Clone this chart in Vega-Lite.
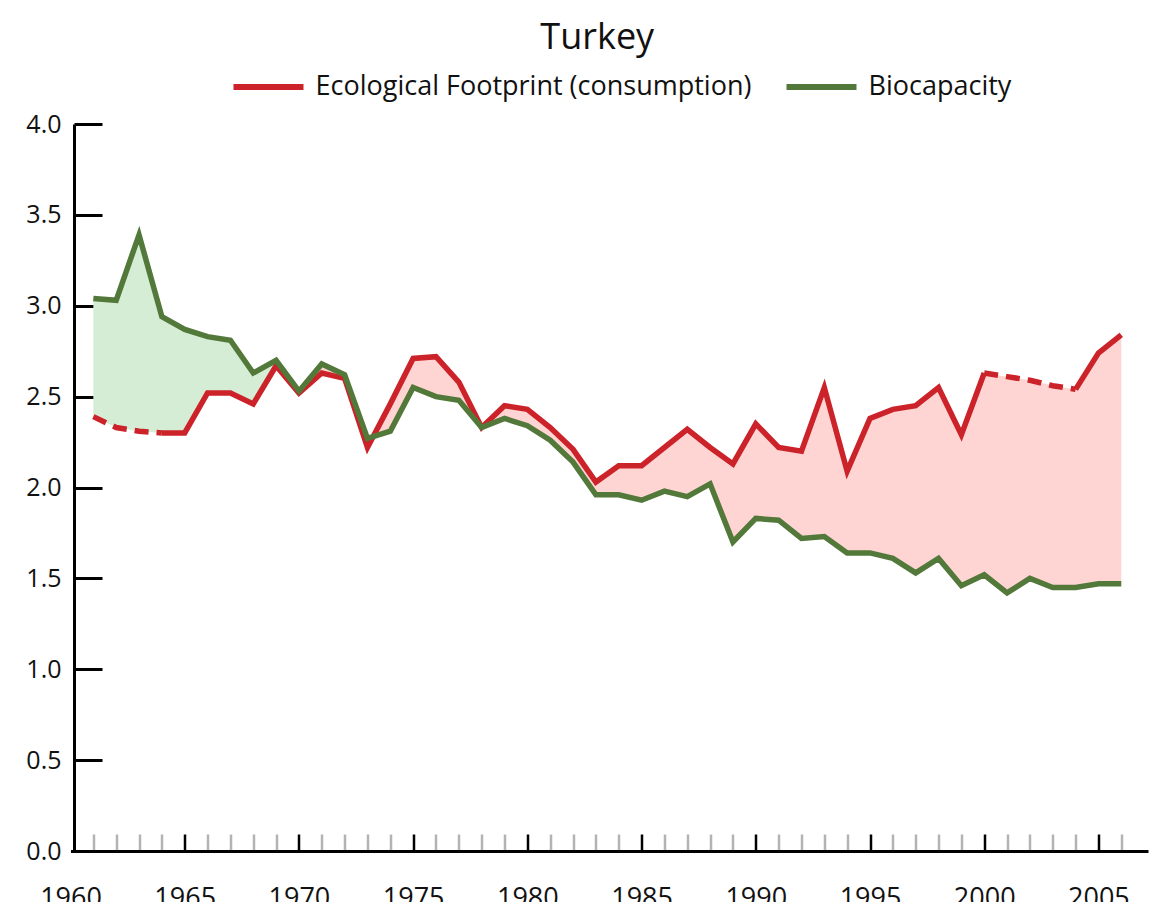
{
  "$schema": "https://vega.github.io/schema/vega-lite/v6.json",
  "autosize": "none",
  "width": 1077.5,
  "height": 727,
  "padding": {"left": 70.5, "top": 124, "right": 18, "bottom": 51},
  "background": "white",
  "title": {"text": "Turkey", "fontSize": 36, "font": "Open Sans", "fontWeight": "normal", "color": "#111", "anchor": "middle", "dx": -12, "offset": -8},
  "config": {
    "view": {"stroke": null},
    "font": "Open Sans",
    "axisY": {"tickCount": 8, "tickSize": -28, "tickWidth": 3, "tickColor": "black", "domainColor": "black", "domainWidth": 3, "labelFontSize": 25, "labelColor": "#111", "labelPadding": 41, "grid": false, "offset": -3.5},
    "legend": {"padding": 0}
  },
  "data": {"values": [
    {"year": 1961, "ef": 2.39, "bio": 3.04},
    {"year": 1962, "ef": 2.33, "bio": 3.03},
    {"year": 1963, "ef": 2.31, "bio": 3.39},
    {"year": 1964, "ef": 2.30, "bio": 2.94},
    {"year": 1965, "ef": 2.30, "bio": 2.87},
    {"year": 1966, "ef": 2.52, "bio": 2.83},
    {"year": 1967, "ef": 2.52, "bio": 2.81},
    {"year": 1968, "ef": 2.46, "bio": 2.63},
    {"year": 1969, "ef": 2.67, "bio": 2.70},
    {"year": 1970, "ef": 2.52, "bio": 2.53},
    {"year": 1971, "ef": 2.63, "bio": 2.68},
    {"year": 1972, "ef": 2.60, "bio": 2.62},
    {"year": 1973, "ef": 2.22, "bio": 2.27},
    {"year": 1974, "ef": 2.46, "bio": 2.31},
    {"year": 1975, "ef": 2.71, "bio": 2.55},
    {"year": 1976, "ef": 2.72, "bio": 2.50},
    {"year": 1977, "ef": 2.58, "bio": 2.48},
    {"year": 1978, "ef": 2.33, "bio": 2.33},
    {"year": 1979, "ef": 2.45, "bio": 2.38},
    {"year": 1980, "ef": 2.43, "bio": 2.34},
    {"year": 1981, "ef": 2.33, "bio": 2.26},
    {"year": 1982, "ef": 2.21, "bio": 2.14},
    {"year": 1983, "ef": 2.03, "bio": 1.96},
    {"year": 1984, "ef": 2.12, "bio": 1.96},
    {"year": 1985, "ef": 2.12, "bio": 1.93},
    {"year": 1986, "ef": 2.22, "bio": 1.98},
    {"year": 1987, "ef": 2.32, "bio": 1.95},
    {"year": 1988, "ef": 2.22, "bio": 2.02},
    {"year": 1989, "ef": 2.13, "bio": 1.70},
    {"year": 1990, "ef": 2.35, "bio": 1.83},
    {"year": 1991, "ef": 2.22, "bio": 1.82},
    {"year": 1992, "ef": 2.20, "bio": 1.72},
    {"year": 1993, "ef": 2.55, "bio": 1.73},
    {"year": 1994, "ef": 2.09, "bio": 1.64},
    {"year": 1995, "ef": 2.38, "bio": 1.64},
    {"year": 1996, "ef": 2.43, "bio": 1.61},
    {"year": 1997, "ef": 2.45, "bio": 1.53},
    {"year": 1998, "ef": 2.55, "bio": 1.61},
    {"year": 1999, "ef": 2.29, "bio": 1.46},
    {"year": 2000, "ef": 2.63, "bio": 1.52},
    {"year": 2001, "ef": 2.61, "bio": 1.42},
    {"year": 2002, "ef": 2.59, "bio": 1.50},
    {"year": 2003, "ef": 2.56, "bio": 1.45},
    {"year": 2004, "ef": 2.54, "bio": 1.45},
    {"year": 2005, "ef": 2.74, "bio": 1.47},
    {"year": 2006, "ef": 2.84, "bio": 1.47}
  ]},
  "encoding": {
    "x": {
      "field": "year", "type": "quantitative",
      "scale": {"domain": [1960, 2007.17], "nice": false, "zero": false},
      "axis": {
        "title": null,
        "values": [1960,1961,1962,1963,1964,1965,1966,1967,1968,1969,1970,1971,1972,1973,1974,1975,1976,1977,1978,1979,1980,1981,1982,1983,1984,1985,1986,1987,1988,1989,1990,1991,1992,1993,1994,1995,1996,1997,1998,1999,2000,2001,2002,2003,2004,2005,2006],
        "format": "d",
        "labelExpr": "datum.value % 5 === 0 ? datum.label : ''",
        "tickSize": -17,
        "tickWidth": 2.5,
        "tickColor": {"condition": {"test": "datum.value % 5 === 0", "value": "black"}, "value": "#b3b3b3"},
        "tickOpacity": {"condition": {"test": "datum.value === 1960", "value": 0}, "value": 1},
        "domainColor": "black",
        "domainWidth": 3,
        "labelFontSize": 27,
        "labelColor": "#111",
        "labelPadding": 51,
        "labelFlush": false,
        "labelOverlap": false,
        "labelBound": false,
        "grid": false
      }
    }
  },
  "layer": [
    {
      "transform": [{"filter": "datum.year <= 1970"}],
      "mark": {"type": "area", "fill": "#d5ecd5", "opacity": 1},
      "encoding": {
        "y": {"field": "bio", "type": "quantitative", "title": null, "scale": {"domain": [0, 4], "nice": false, "zero": true}},
        "y2": {"field": "ef"}
      }
    },
    {
      "transform": [{"filter": "datum.year >= 1970"}],
      "mark": {"type": "area", "fill": "#ffd5d3", "opacity": 1},
      "encoding": {
        "y": {"field": "ef", "type": "quantitative", "title": null},
        "y2": {"field": "bio"}
      }
    },
    {
      "transform": [{"filter": "datum.year >= 1964 && datum.year <= 2000"}],
      "mark": {"type": "line", "strokeWidth": 5.5, "strokeJoin": "miter", "strokeCap": "butt"},
      "encoding": {
        "y": {"field": "ef", "type": "quantitative", "title": null},
        "color": {
          "datum": "Ecological Footprint (consumption)",
          "scale": {"domain": ["Ecological Footprint (consumption)", "Biocapacity"], "range": ["#cc2229", "#52783a"]},
          "legend": {
            "title": null, "orient": "none", "direction": "horizontal",
            "legendX": 160, "legendY": -75,
            "symbolType": "stroke", "symbolSize": 4900, "symbolStrokeWidth": 6,
            "labelFontSize": 27, "labelColor": "#111", "labelOffset": 9, "columnPadding": 23,
            "labelFont": "Open Sans", "labelLimit": 0
          }
        }
      }
    },
    {
      "transform": [{"filter": "datum.year >= 2004"}],
      "mark": {"type": "line", "strokeWidth": 5.5, "strokeJoin": "miter", "strokeCap": "butt"},
      "encoding": {
        "y": {"field": "ef", "type": "quantitative", "title": null},
        "color": {"datum": "Ecological Footprint (consumption)"}
      }
    },
    {
      "transform": [{"filter": "datum.year <= 1964"}],
      "mark": {"type": "line", "strokeWidth": 5.5, "strokeDash": [14, 8]},
      "encoding": {
        "y": {"field": "ef", "type": "quantitative", "title": null},
        "color": {"datum": "Ecological Footprint (consumption)"}
      }
    },
    {
      "transform": [{"filter": "datum.year >= 2000 && datum.year <= 2004"}],
      "mark": {"type": "line", "strokeWidth": 5.5, "strokeDash": [14, 8]},
      "encoding": {
        "y": {"field": "ef", "type": "quantitative", "title": null},
        "color": {"datum": "Ecological Footprint (consumption)"}
      }
    },
    {
      "mark": {"type": "line", "strokeWidth": 5.5, "strokeJoin": "miter"},
      "encoding": {
        "y": {"field": "bio", "type": "quantitative", "title": null},
        "color": {"datum": "Biocapacity"}
      }
    }
  ]
}
